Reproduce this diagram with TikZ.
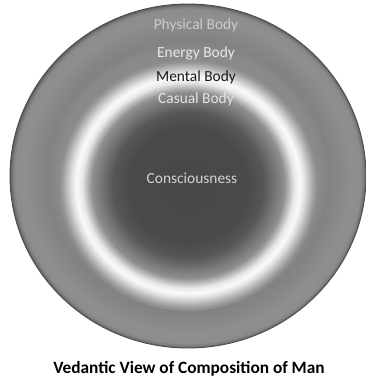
\documentclass[tikz,border=0pt]{standalone}
\usepackage{fontspec}
\setmainfont{Carlito}
\usetikzlibrary{positioning}

% sheaths of the body, outer rim and inner glow
\pgfdeclareradialshading{outerbody}{\pgfpointorigin}{color(0bp)=(black!46); color(18.5bp)=(black!46); color(19.75bp)=(black!49); color(21.25bp)=(black!47); color(23bp)=(black!44); color(24.3bp)=(black!45); color(24.7bp)=(black!52); color(25bp)=(black!64); color(50bp)=(black!64)}
\pgfdeclareradialshading{innerbody}{\pgfpointorigin}{color(0bp)=(black!72); color(11.5bp)=(black!71); color(14.5bp)=(black!66); color(16.5bp)=(black!55); color(18.5bp)=(black!44); color(19.5bp)=(black!26); color(20.4bp)=(black!9); color(21.5bp)=(black!2); color(22.5bp)=(black!13); color(23.4bp)=(black!27); color(24.4bp)=(black!41); color(25bp)=(black!46); color(50bp)=(black!46)}

\begin{document}
\begin{tikzpicture}[
    x=1bp, y=-1bp,
    node distance = 10bp,
    sheath/.style={inner sep=0pt, text height=11bp, text depth=3bp, font=\fontsize{15.4bp}{18bp}\selectfont},
    caption/.style={inner sep=0pt, font=\bfseries\fontsize{17.3bp}{20bp}\selectfont},
]
\useasboundingbox (0,0) rectangle (366,380);
\shade[shading=outerbody] (188,176) ellipse [x radius=178, y radius=172];
\draw[black!70, line width=0.9bp] (188,176) ellipse [x radius=178, y radius=172];
\shade[shading=innerbody] (188,185) ellipse [x radius=130, y radius=126];

\node[sheath, text=black!20] (physical) at (196,25) {Physical Body};
\node[sheath, text=black!9, below=14bp of physical] (energy) {Energy Body};
\node[sheath, text=black!90, below=of energy] (mental) {Mental Body};
\node[sheath, text=black!11, below=7bp of mental] (casual) {Casual Body};
\node[sheath, text=black!17] (conscious) at (192,179) {Consciousness};

\node[caption] (title) at (189,369) {Vedantic View of Composition of Man};
\end{tikzpicture}
\end{document}
